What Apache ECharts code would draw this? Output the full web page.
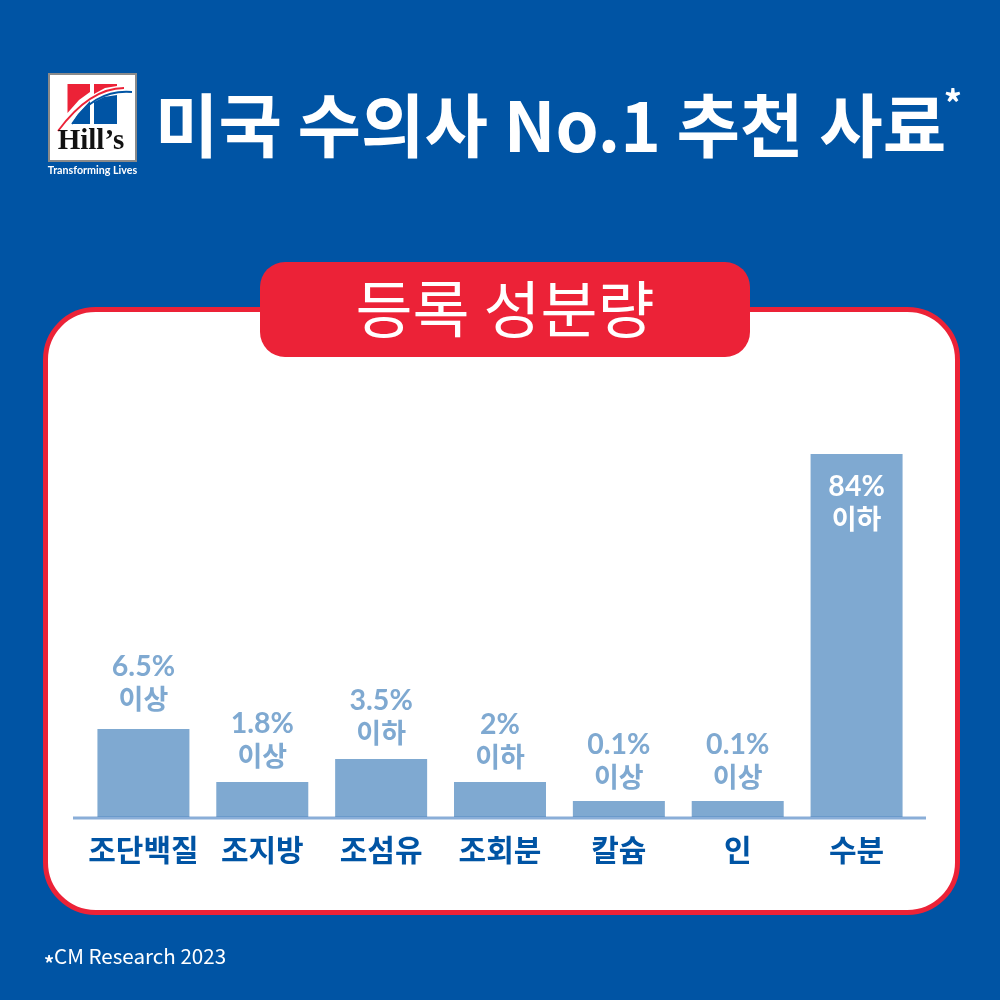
<!DOCTYPE html>
<html><head><meta charset="utf-8">
<style>html,body{margin:0;padding:0;background:#0054a4}#c{width:1000px;height:1000px}</style>
<script src="https://cdn.jsdelivr.net/npm/echarts@6/dist/echarts.min.js"></script>
</head><body><div id="c"></div>
<script>
const categories = ['조단백질','조지방','조섬유','조회분','칼슘','인','수분'];
const percentLabels = ['6.5%','1.8%','3.5%','2%','0.1%','0.1%','84%'];
const limitLabels = ['이상','이상','이하','이하','이상','이상','이하'];
// drawn bar heights (the bars are not proportional to the labels)
const barHeights = [88,35,58,35,16,16,363];
const labelGaps = [14,10,10,9,8,8,0];

const BLUE='#0054a4', RED='#ec2237', LIGHT='#7fa9d1';
const KR='"Noto Sans CJK KR"';

const chart = echarts.init(document.getElementById('c'),null,{renderer:'canvas'});
function rich(color){return {
  p:{fontFamily:'Lato',fontWeight:'bold',fontSize:28.5,lineHeight:32,color},
  k:{fontFamily:KR,fontWeight:600,fontSize:27,lineHeight:32,color}
};}
chart.setOption({
  backgroundColor:BLUE,
  animation:false,
  grid:{left:84,width:832,top:417,height:400},
  xAxis:{type:'category',data:categories,
    axisLine:{show:false},axisTick:{show:false},
    axisLabel:{color:BLUE,fontFamily:KR,fontWeight:'bold',fontSize:30,margin:18,interval:0}},
  yAxis:{type:'value',min:0,max:400,show:false},
  series:[{type:'bar',barWidth:92,z:5,
    data:barHeights.map((v,i)=>({value:v,
      label: i===6?{position:'insideTop',distance:17,rich:rich('#fff')}
                  :{position:'top',distance:labelGaps[i],rich:rich(LIGHT)}})),
    itemStyle:{color:LIGHT},
    label:{show:true,align:'center',
      formatter:p=>'{p|'+percentLabels[p.dataIndex]+'}\n{k|'+limitLabels[p.dataIndex]+'}'}
  }],
  graphic:[
    // panel
    {type:'rect',z:-1,shape:{x:45.5,y:309.5,width:912,height:603,r:50},style:{fill:'#fff',stroke:RED,lineWidth:5}},
    {type:'rect',z:1,shape:{x:260,y:262,width:490,height:95,r:25},style:{fill:RED}},
    {type:'text',z:2,style:{x:505,y:309,text:'등록 성분량',fill:'#fff',font:'400 62px "Noto Sans CJK KR"',align:'center',verticalAlign:'middle'}},
    // baseline
    {type:'line',z:10,shape:{x1:73,y1:818,x2:926,y2:818},style:{stroke:'rgba(60,120,190,0.6)',lineWidth:3}},
    // logo
    {type:'rect',z:1,shape:{x:49,y:74,width:87,height:87},style:{fill:'#fff',stroke:'#8a8a8a',lineWidth:2}},
    {type:'polygon',z:2,shape:{points:[[67.5,84],[90,84],[90,92],[79,100],[67.5,113]]},style:{fill:RED}},
    {type:'polygon',z:2,shape:{points:[[94,84],[117,84],[117,86],[105,88],[94,94]]},style:{fill:RED}},
    {type:'polygon',z:2,shape:{points:[[94,102],[104,97],[117,95],[117,124],[94,124]]},style:{fill:BLUE}},
    {type:'polygon',z:2,shape:{points:[[72,124],[78,114],[90,101],[90,124]]},style:{fill:BLUE}},
    {type:'bezierCurve',z:3,shape:{x1:58,y1:131,cpx1:78,cpy1:104,cpx2:100,cpy2:88,x2:124,y2:88},style:{stroke:RED,lineWidth:1.8,fill:'none'}},
    {type:'bezierCurve',z:3,shape:{x1:72,y1:124,cpx1:88,cpy1:100,cpx2:108,cpy2:90,x2:132,y2:92},style:{stroke:BLUE,lineWidth:1.8,fill:'none'}},
    {type:'text',z:3,style:{x:91,y:142,text:'Hill’s',fill:'#111',font:'bold 29px "Liberation Serif"',align:'center',verticalAlign:'middle'}},
    {type:'text',z:3,style:{x:92.5,y:171,text:'Transforming Lives',fill:'#fff',font:'bold 10.7px Lato',align:'center',verticalAlign:'middle'}},
    // title
    {type:'text',style:{x:155,y:126,text:'미국 수의사 No.1 추천 사료',fill:'#fff',font:'bold 69px "Noto Sans CJK KR"',align:'left',verticalAlign:'middle'}},
    {type:'text',style:{x:953,y:103,text:'*',fill:'#fff',font:'bold 36px "Noto Sans CJK KR"',align:'center',verticalAlign:'middle'}},
    // footer
    {type:'text',style:{x:44,y:963,text:'*',fill:'#fff',font:'bold 20px "Noto Sans CJK KR"',align:'left',verticalAlign:'middle'}},
    {type:'text',style:{x:54,y:956,text:'CM Research 2023',fill:'#fff',font:'20.6px "Noto Sans CJK KR"',align:'left',verticalAlign:'middle'}}
  ]
});
</script></body></html>
